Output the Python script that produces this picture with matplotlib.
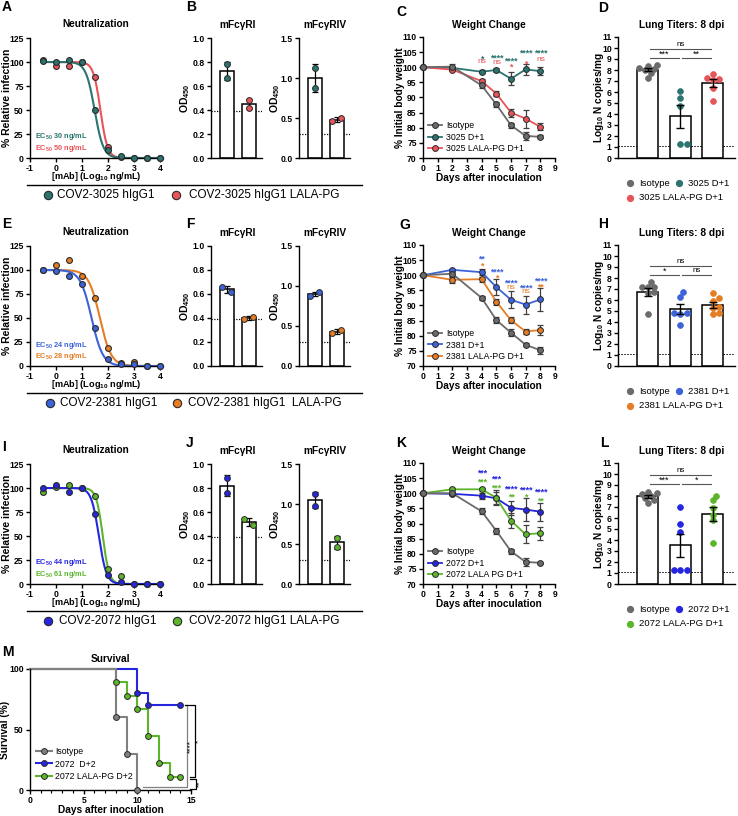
import numpy as np
import matplotlib
matplotlib.use('Agg')
import matplotlib.pyplot as plt
from matplotlib.lines import Line2D

plt.rcParams['font.family'] = ['Liberation Sans', 'DejaVu Sans']
plt.rcParams['mathtext.fontset'] = 'custom'
plt.rcParams['mathtext.rm'] = 'Liberation Sans'
plt.rcParams['mathtext.it'] = 'Liberation Sans:italic'
plt.rcParams['mathtext.bf'] = 'Liberation Sans:bold'
plt.rcParams['mathtext.default'] = 'regular'
plt.rcParams['axes.unicode_minus'] = False

# ---------------- DATA ----------------
conc_log = [-0.5, 0, 0.5, 1, 1.5, 2, 2.5, 3, 3.5, 4]
neut_3025 = [101, 99.5, 102, 100, 49.5, 8, 2, 0, 0, 0]
neut_3025_lala = [102, 96, 96, 100, 84, 11, 1.5, 0, 0, 0]
neut_2381 = [100.3, 98.6, 94.1, 85.8, 39.6, 7.6, 2.4, 1.7, 0, 0]
neut_2381_lala = [100, 105.5, 110, 93.4, 71.2, 19, 3.5, 4, 0, 0]
neut_2072 = [100, 102.8, 95.5, 100, 73, 9.7, 2, 0, 0, 0]
neut_2072_lala = [96, 100.7, 102.8, 100, 91.3, 16, 8, 0, 0, 0]
# fitted curve parameters (log10 EC50, Hill slope)
fit_3025 = (1.477, 2.6)
fit_3025_lala = (1.70, 3.2)
fit_2381 = (1.36, 2.0)
fit_2381_lala = (1.68, 2.0)
fit_2072 = (1.64, 3.0)
fit_2072_lala = (1.79, 3.5)
ec50_3025 = ['30', '50']
ec50_2381 = ['24', '28']
ec50_2072 = ['44', '61']

fcr1_3025 = [0.78, 0.67]
fcr1_3025_lala = [0.48, 0.42]
fcr4_3025 = [1.12, 0.88]
fcr4_3025_lala = [0.46, 0.50]
fcr1_2381 = [0.66, 0.62]
fcr1_2381_lala = [0.39, 0.41]
fcr4_2381 = [0.88, 0.92]
fcr4_2381_lala = [0.41, 0.45]
fcr1_2072 = [0.88, 0.76]
fcr1_2072_lala = [0.54, 0.49]
fcr4_2072 = [1.12, 0.98]
fcr4_2072_lala = [0.58, 0.46]
fcr1_cutoff = 0.39
fcr4_cutoff = 0.30

days = [0, 2, 4, 5, 6, 7, 8]
wt_iso_C = [100, 100.2, 94, 87.7, 80.8, 77.3, 77.0]
wt_iso_C_err = [0, 0.8, 0.8, 0.8, 0.8, 1.2, 0.5]
wt_3025 = [100, 99.8, 98.5, 99.1, 96.2, 99.3, 98.7]
wt_3025_err = [0, 0.3, 0.5, 0.6, 2.2, 1.8, 1.3]
wt_3025_lala = [100, 99.2, 95.4, 91.3, 85.0, 83.0, 80.3]
wt_3025_lala_err = [0, 0.5, 0.8, 0.8, 1.3, 3.0, 1.2]
sig_3025 = ['*', '****', '****', '****', '****']
sig_3025_lala = ['ns', 'ns', '*', '*', 'ns']

wt_iso_G = [100, 100.5, 92.5, 85.2, 81.0, 77.0, 75.2]
wt_iso_G_err = [0, 0.6, 0.8, 1.0, 1.2, 0.5, 1.2]
wt_2381 = [100, 101.8, 101.0, 96.1, 91.9, 90.3, 92.0]
wt_2381_err = [0, 0.3, 1.0, 2.5, 2.8, 3.0, 3.8]
wt_2381_lala = [100, 98.5, 98.7, 91.3, 85.1, 81.4, 81.9]
wt_2381_lala_err = [0, 1.0, 0.8, 1.0, 1.0, 0.8, 1.7]
sig_2381 = ['**', '****', '****', '****', '****']
sig_2381_lala = ['*', '*', 'ns', 'ns', '**']

wt_iso_K = [100, 100, 94, 87.6, 80.8, 77.3, 77.0]
wt_iso_K_err = [0, 0.5, 1.0, 1.0, 0.8, 1.2, 0.3]
wt_2072 = [100, 99.8, 99.2, 98.3, 95.2, 94.6, 93.9]
wt_2072_err = [0, 0.3, 1.0, 2.0, 2.3, 3.8, 3.0]
wt_2072_lala = [100, 101.3, 101.3, 98.5, 90.9, 86.4, 86.8]
wt_2072_lala_err = [0, 0.5, 0.5, 2.5, 2.5, 3.0, 2.2]
sig_2072 = ['***', '***', '****', '****', '****']
sig_2072_lala = ['***', '***', '**', '*', '**']

lung_iso_D = [7.3, 8.0, 8.4, 8.1, 8.5, 8.2, 7.7]
lung_3025 = [6.1, 5.5, 4.7, 1.3, 1.3]
lung_3025_lala = [7.2, 7.3, 7.6, 6.4, 7.1, 5.2]
sig_lung_D = ['***', '**', 'ns']
lung_iso_H = [7.15, 7.15, 7.2, 7.6, 6.65, 6.7, 4.7]
lung_2381 = [6.7, 6.25, 4.8, 4.8, 4.7, 3.75]
lung_2381_lala = [5.9, 6.6, 6.2, 4.7, 5.3, 4.8, 5.4]
sig_lung_H = ['*', 'ns', 'ns']
lung_iso_L = [8.2, 8.4, 8.3, 7.8, 8.0, 7.4, 7.6]
lung_2072 = [7.0, 5.5, 4.7, 1.3, 1.3, 1.3]
lung_2072_lala = [8.0, 7.6, 6.9, 6.3, 5.8, 3.7]
sig_lung_L = ['***', '*', 'ns']
lung_lod = 1.1

surv_days_iso = [0, 8, 9, 10]
surv_pct_iso = [100, 60, 30, 0]
surv_days_2072 = [0, 10, 11, 14]
surv_pct_2072 = [100, 80, 70, 70]
surv_days_2072_lala = [0, 8, 9, 10, 11, 12, 13, 14]
surv_pct_2072_lala = [100, 88.9, 77.8, 66.7, 44.4, 22.2, 11.1, 11.1]
surv_sig = ['****', '*', '**']

# ---------------- COLOURS ----------------
c_teal = '#2b7470'
c_red = '#e8545a'
c_blue1 = '#3d63d8'
c_orange = '#e57d25'
c_blue2 = '#2626e0'
c_green = '#5db52c'
c_iso = '#6b6b6b'
c_edge = '#2a2a2a'

# ---------------- LAYOUT ----------------
W, H = 738, 816
fig = plt.figure(figsize=(W / 100, H / 100), dpi=100)


def add_ax(l, t, r, b):
    ax = fig.add_axes([l / W, 1 - b / H, (r - l) / W, (b - t) / H])
    ax._px = (l, t, r, b)
    return ax


def ftext(x, y, s, **kw):
    return fig.text(x / W, 1 - y / H, s, **kw)


def style(ax):
    for s in ['top', 'right']:
        ax.spines[s].set_visible(False)
    for s in ['left', 'bottom']:
        ax.spines[s].set_linewidth(1.0)
    ax.tick_params(direction='out', length=3, width=1.0, labelsize=6.2, pad=1.5)
    for lab in ax.get_xticklabels() + ax.get_yticklabels():
        lab.set_fontweight('bold')


def ylab(ax, s, xc, size=7.3):
    l, t, r, b = ax._px
    ax.set_ylabel(s, fontsize=size, fontweight='bold')
    ax.yaxis.set_label_coords((xc + 4.5 - l) / (r - l), 0.5)


def xlab(ax, s, ytop, size=7.3):
    l, t, r, b = ax._px
    ax.set_xlabel(s, fontsize=size, fontweight='bold')
    ax.xaxis.set_label_coords(0.5, (b - ytop) / (b - t))


def hill(x, p):
    le, h = p
    return 100.0 / (1.0 + 10 ** ((x - le) * h))


def neut_panel(oy, d1, d2, f1, f2, c1, c2, ecs, name1, name2, lab, legx):
    ax = add_ax(30, 38 + oy, 163, 158 + oy)
    xs = np.linspace(-0.5, 4, 300)
    ax.plot(xs, hill(xs, f2), color=c2, lw=1.5, zorder=2)
    ax.plot(xs, hill(xs, f1), color=c1, lw=1.5, zorder=2)
    ax.plot(conc_log, d2, 'o', mfc=c2, mec=c_edge, mew=0.8, ms=4.2, clip_on=False, zorder=3)
    ax.plot(conc_log, d1, 'o', mfc=c1, mec=c_edge, mew=0.8, ms=4.2, clip_on=False, zorder=4)
    ax.set_xlim(-1, 4.1)
    ax.set_ylim(0, 125)
    ax.set_xticks([-1, 0, 1, 2, 3, 4])
    ax.set_yticks([0, 25, 50, 75, 100, 125])
    style(ax)
    ylab(ax, '% Relative infection', 8, 7.5)
    xlab(ax, '[mAb] (Log$_{10}$ ng/mL)', 170 + oy, 6.6)
    ftext(35, 137 + oy, 'EC$_{50}$ ' + ecs[0] + ' ng/mL', color=c1, fontsize=5.3,
          fontweight='bold', va='center')
    ftext(35, 148 + oy, 'EC$_{50}$ ' + ecs[1] + ' ng/mL', color=c2, fontsize=5.3,
          fontweight='bold', va='center')
    ftext(96, 24 + oy, 'Neutralization', fontsize=7.3, fontweight='bold', ha='center', va='center')
    ftext(2, lab[1], lab[0], fontsize=10, fontweight='bold', va='center')
    # legend row
    fig.add_artist(Line2D([27 / W, 362 / W], [1 - (185 + oy) / H] * 2, color='black', lw=1.0))
    yl = 1 - (195 + oy) / H
    fig.add_artist(Line2D([legx[0] / W], [yl], marker='o', ms=6, mfc=c1, mec=c_edge, mew=0.8))
    fig.add_artist(Line2D([legx[2] / W], [yl], marker='o', ms=6, mfc=c2, mec=c_edge, mew=0.8))
    ftext(legx[1], 195 + oy, name1, fontsize=8.5, va='center')
    ftext(legx[3], 195 + oy, name2, fontsize=8.5, va='center')


def bar_pts(ax, vals_list, colors, ymax):
    for i, (v, c) in enumerate(zip(vals_list, colors)):
        m = np.mean(v)
        sd = np.std(v, ddof=1)
        ax.bar(i, m, width=0.62, color='white', edgecolor='black', linewidth=1.1, zorder=1)
        ax.errorbar(i, m, yerr=sd, fmt='none', ecolor='black', elinewidth=0.9,
                    capsize=2.5, capthick=0.9, zorder=2)
        if abs(v[0] - v[1]) < 0.06 * ymax:
            offs = [-0.2, 0.2]
        else:
            offs = [0, 0]
        for o, val in zip(offs, v):
            ax.plot(i + o, val, 'o', mfc=c, mec=c_edge, mew=0.7, ms=4.2, zorder=3)


def fc_panel(oy, r1a, r1b, r4a, r4b, c1, c2, lab):
    ax1 = add_ax(211, 38 + oy, 262, 158 + oy)
    bar_pts(ax1, [r1a, r1b], [c1, c2], 1.0)
    ax1.axhline(fcr1_cutoff, color='black', lw=0.9, ls=(0, (1, 1.2)), zorder=0)
    ax1.set_ylim(0, 1.0)
    ax1.set_xlim(-0.72, 1.6)
    ax1.set_yticks([0, 0.2, 0.4, 0.6, 0.8, 1.0])
    ax1.set_yticklabels(['0.0', '0.2', '0.4', '0.6', '0.8', '1.0'])
    ax1.set_xticks([])
    style(ax1)
    ylab(ax1, 'OD$_{450}$', 187, 7.5)
    ax2 = add_ax(299, 38 + oy, 350, 158 + oy)
    bar_pts(ax2, [r4a, r4b], [c1, c2], 1.5)
    ax2.axhline(fcr4_cutoff, color='black', lw=0.9, ls=(0, (1, 1.2)), zorder=0)
    ax2.set_ylim(0, 1.5)
    ax2.set_xlim(-0.72, 1.6)
    ax2.set_yticks([0, 0.5, 1.0, 1.5])
    ax2.set_yticklabels(['0.0', '0.5', '1.0', '1.5'])
    ax2.set_xticks([])
    style(ax2)
    ylab(ax2, 'OD$_{450}$', 277, 7.5)
    ftext(238, 25 + oy, 'mFcγRI', fontsize=7.3, fontweight='bold', ha='center', va='center')
    ftext(325, 25 + oy, 'mFcγRIV', fontsize=7.3, fontweight='bold', ha='center', va='center')
    ftext(186, lab[1], lab[0], fontsize=10, fontweight='bold', va='center')


def weight_panel(oy, iso, iso_e, t, t_e, l, l_e, c1, c2, sig1, sig2, ys1, ys2, names, lab):
    ax = add_ax(423, 37 + oy, 555, 158 + oy)
    for m, e, c in [(t, t_e, c1), (l, l_e, c2), (iso, iso_e, c_iso)]:
        ax.errorbar(days, m, yerr=e, fmt='none', ecolor='#404040', elinewidth=0.9,
                    capsize=2.3, capthick=0.9, zorder=2, clip_on=False)
        ax.plot(days, m, '-', color=c, lw=1.3, zorder=3)
        ax.plot(days, m, 'o', mfc=c, mec=c_edge, mew=0.7, ms=4.2, zorder=4, clip_on=False)
    for k, d in enumerate(days[2:]):
        for s, yy, c in [(sig1[k], ys1[k], c1), (sig2[k], ys2[k], c2)]:
            if '*' in s:
                ax.text(d, yy - 0.9, s, color=c, fontsize=6.3, fontweight='bold',
                        ha='center', va='center')
            else:
                ax.text(d, yy, s, color=c, fontsize=6.0, ha='center', va='center')
    ax.set_xlim(0, 9)
    ax.set_ylim(70, 110)
    ax.set_xticks(range(10))
    ax.set_yticks(range(70, 111, 5))
    style(ax)
    ylab(ax, '% Initial body weight', 401, 7.3)
    xlab(ax, 'Days after inoculation', 173 + oy, 7.3)
    handles = [Line2D([], [], color=c, lw=1.3, marker='o', mfc=c, mec=c_edge, mew=0.7, ms=4.2)
               for c in [c_iso, c1, c2]]
    ax.legend(handles, names, loc='lower left', frameon=False, fontsize=6.3,
              handlelength=1.6, handletextpad=0.5, borderaxespad=0.15, labelspacing=0.3,
              bbox_to_anchor=(0.0, 0.0))
    ftext(489, 25 + oy, 'Weight Change', fontsize=7.3, fontweight='bold', ha='center', va='center')
    ftext(lab[1], lab[2], lab[0], fontsize=10, fontweight='bold', va='center')


def swarm(vals, xpx, ypx, d=5.6):
    order = np.argsort(vals)
    placed = []
    offs = np.zeros(len(vals))
    for i in order:
        for k in [0, 1, -1, 2, -2, 3, -3, 4, -4]:
            ox = k * d * 0.55
            ok = True
            for (px, py) in placed:
                if (ox - px) ** 2 + ((vals[i] - py) * ypx) ** 2 < (d * 0.95) ** 2:
                    ok = False
                    break
            if ok:
                break
        placed.append((ox, vals[i]))
        offs[i] = ox / xpx
    return offs


def lung_panel(oy, groups, colors, sig, br, names, lab):
    ax = add_ax(618, 37 + oy, 735, 158 + oy)
    xpx = 32.5
    ypx = 121 / 11
    for i, (v, c) in enumerate(zip(groups, colors)):
        m = np.mean(v)
        se = np.std(v, ddof=1) / np.sqrt(len(v))
        ax.bar(i, m, width=0.65, color='white', edgecolor='black', linewidth=1.1, zorder=1)
        offs = swarm(np.array(v), xpx, ypx)
        ax.plot(i + offs, v, 'o', mfc=c, mec=c, mew=0.5, ms=4.2, zorder=3)
        ax.errorbar(i, m, yerr=se, fmt='none', ecolor='black', elinewidth=1.0,
                    capsize=3, capthick=1.0, zorder=4)
    ax.axhline(lung_lod, color='black', lw=0.7, ls=(0, (1.5, 1.5)), zorder=0)
    y_low, y_top = br
    ax.plot([0.05, 0.95], [y_low, y_low], color='#555555', lw=0.8)
    ax.plot([1.05, 1.95], [y_low, y_low], color='#555555', lw=0.8)
    ax.plot([0.05, 1.95], [y_top, y_top], color='#555555', lw=0.8)
    for xx, yy, s in [(0.5, y_low, sig[0]), (1.5, y_low, sig[1]), (1.0, y_top, sig[2])]:
        if '*' in s:
            ax.text(xx, yy - 0.05, s, fontsize=6.5, ha='center', va='bottom')
        else:
            ax.text(xx, yy + 0.12, s, fontsize=5.8, ha='center', va='bottom')
    ax.set_xlim(-0.92, 2.68)
    ax.set_ylim(0, 11)
    ax.set_yticks(range(12))
    ax.set_xticks([])
    style(ax)
    ylab(ax, 'Log$_{10}$ N copies/mg', 602, 7.3)
    ftext(682, 25 + oy, 'Lung Titers: 8 dpi', fontsize=7.3, fontweight='bold', ha='center', va='center')
    ftext(lab[1], lab[2], lab[0], fontsize=10, fontweight='bold', va='center')
    for (mx, my, c, s) in [(630, 183, colors[0], names[0]), (679, 183, colors[1], names[1]),
                           (630, 198, colors[2], names[2])]:
        fig.add_artist(Line2D([mx / W], [1 - (my + oy) / H], marker='o', ms=4.2, mfc=c, mec=c))
        ftext(mx + 9, my + oy, s, fontsize=6.8, va='center')


# ---------------- ROW 1 ----------------
neut_panel(0, neut_3025, neut_3025_lala, fit_3025, fit_3025_lala, c_teal, c_red, ec50_3025,
           'COV2-3025 hIgG1', 'COV2-3025 hIgG1 LALA-PG', ('A', 7), (47.5, 57, 175.5, 189))
fc_panel(0, fcr1_3025, fcr1_3025_lala, fcr4_3025, fcr4_3025_lala, c_teal, c_red, ('B', 7))
weight_panel(0, wt_iso_C, wt_iso_C_err, wt_3025, wt_3025_err, wt_3025_lala, wt_3025_lala_err,
             c_teal, c_red, sig_3025, sig_3025_lala,
             [103.6, 103.8, 103.1, 105.6, 105.5], [102.0, 101.7, 100.9, 102.0, 102.5],
             ['Isotype', '3025 D+1', '3025 LALA-PG D+1'], ('C', 396, 12))
lung_panel(0, [lung_iso_D, lung_3025, lung_3025_lala], [c_iso, c_teal, c_red], sig_lung_D,
           (9.05, 9.9), ['Isotype', '3025 D+1', '3025 LALA-PG D+1'], ('D', 598, 8))

# ---------------- ROW 2 ----------------
neut_panel(208, neut_2381, neut_2381_lala, fit_2381, fit_2381_lala, c_blue1, c_orange, ec50_2381,
           'COV2-2381 hIgG1', 'COV2-2381 hIgG1  LALA-PG', ('E', 224), (50, 60, 177, 188))
fc_panel(208, fcr1_2381, fcr1_2381_lala, fcr4_2381, fcr4_2381_lala, c_blue1, c_orange, ('F', 224))
weight_panel(208, wt_iso_G, wt_iso_G_err, wt_2381, wt_2381_err, wt_2381_lala, wt_2381_lala_err,
             c_blue1, c_orange, sig_2381, sig_2381_lala,
             [106.1, 101.9, 98.4, 96.7, 99.0], [103.9, 100.0, 96.0, 94.5, 97.1],
             ['Isotype', '2381 D+1', '2381 LALA-PG D+1'], ('G', 399, 225))
lung_panel(208, [lung_iso_H, lung_2381, lung_2381_lala], [c_iso, c_blue1, c_orange], sig_lung_H,
           (8.25, 9.05), ['Isotype', '2381 D+1', '2381 LALA-PG D+1'], ('H', 598, 224))

# ---------------- ROW 3 ----------------
neut_panel(426, neut_2072, neut_2072_lala, fit_2072, fit_2072_lala, c_blue2, c_green, ec50_2072,
           'COV2-2072 hIgG1', 'COV2-2072 hIgG1 LALA-PG', ('I', 447), (48, 59, 176.7, 189))
fc_panel(426, fcr1_2072, fcr1_2072_lala, fcr4_2072, fcr4_2072_lala, c_blue2, c_green, ('J', 443))
weight_panel(426, wt_iso_K, wt_iso_K_err, wt_2072, wt_2072_err, wt_2072_lala, wt_2072_lala_err,
             c_blue2, c_green, sig_2072, sig_2072_lala,
             [107.6, 105.6, 102.4, 101.8, 101.3], [104.7, 102.7, 99.5, 99.6, 98.4],
             ['Isotype', '2072 D+1', '2072 LALA PG D+1'], ('K', 396, 443))
lung_panel(426, [lung_iso_L, lung_2072, lung_2072_lala], [c_iso, c_blue2, c_green], sig_lung_L,
           (9.05, 9.9), ['Isotype', '2072 D+1', '2072 LALA-PG D+1'], ('L', 600, 443))

# ---------------- PANEL M ----------------
axm = add_ax(30, 669, 191, 790)
for t, s, c in [(surv_days_2072, surv_pct_2072, c_blue2),
                (surv_days_2072_lala, surv_pct_2072_lala, c_green),
                (surv_days_iso, surv_pct_iso, '#808080')]:
    axm.step(t, s, where='post', color=c, lw=1.5, zorder=2, clip_on=False)
    axm.plot(t[1:], s[1:], 'o', mfc=c, mec=c_edge, mew=0.7, ms=4.2, zorder=3, clip_on=False)
axm.set_xlim(0, 15)
axm.set_ylim(0, 100)
axm.set_xticks([0, 5, 10, 15])
axm.set_xticks(range(16), minor=True)
axm.set_yticks([0, 50, 100])
style(axm)
axm.tick_params(which='minor', length=2, width=0.8)
ylab(axm, 'Survival (%)', 6, 7.3)
xlab(axm, 'Days after inoculation', 805, 7.3)
kw = dict(clip_on=False, lw=0.9)
axm.plot([10.5, 14.65, 14.65, 14.4], [2.7, 2.7, 70, 70], color='#808080', **kw)
axm.plot([14.4, 15.35, 15.35, 14.9], [70, 70, 11, 11], color='black', **kw)
axm.plot([14.9, 15.5, 15.5, 14.9], [9.5, 9.5, 0.5, 0.5], color='black', **kw)
axm.text(15.02, 36, surv_sig[0], rotation=90, fontsize=6, ha='center', va='center')
axm.text(15.72, 40, surv_sig[1], rotation=90, fontsize=6, ha='center', va='center')
axm.text(15.85, 5, surv_sig[2], rotation=90, fontsize=6, ha='center', va='center')
hm = [Line2D([], [], color=c, lw=1.5, marker='o', mfc=c, mec=c_edge, mew=0.7, ms=4.2)
      for c in ['#808080', c_blue2, c_green]]
axm.legend(hm, ['Isotype', '2072  D+2', '2072 LALA-PG D+2'], loc='lower left', frameon=False,
           fontsize=6.3, handlelength=1.8, handletextpad=0.4, borderaxespad=0.3,
           labelspacing=0.45, bbox_to_anchor=(0.0, 0.02))
ftext(110, 659, 'Survival', fontsize=7.3, fontweight='bold', ha='center', va='center')
ftext(2, 652, 'M', fontsize=10, fontweight='bold', va='center')

fig.savefig('out.png', dpi=100)
